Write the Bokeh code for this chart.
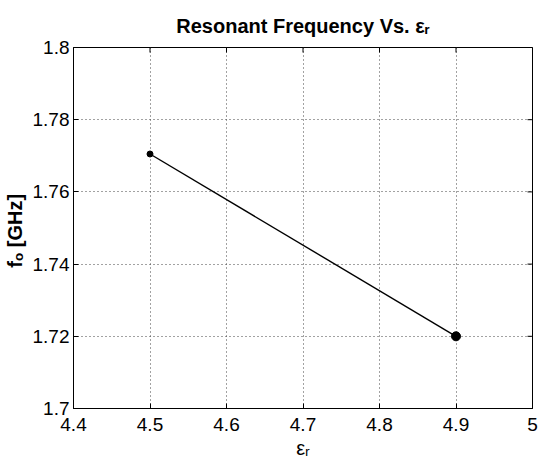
import math
from bokeh.plotting import figure
from bokeh.models import LinearAxis, FixedTicker, Range1d
from bokeh.embed import file_html
from bokeh.resources import INLINE

# data
eps_r = [4.5, 4.9]
f0_ghz = [1.7705, 1.72]
marker_sizes = [6, 9]

x_ticks = [4.4, 4.5, 4.6, 4.7, 4.8, 4.9, 5.0]
x_tick_labels = ["4.4", "4.5", "4.6", "4.7", "4.8", "4.9", "5"]
y_ticks = [1.70, 1.72, 1.74, 1.76, 1.78, 1.80]
y_tick_labels = ["1.7", "1.72", "1.74", "1.76", "1.78", "1.8"]
x_lim = (4.4, 5.0)
y_lim = (1.70, 1.80)

title_text = "Resonant Frequency Vs. \u03b5\u1d63"
x_label = "\u03b5\u1d63"
y_label = "f\u2092  [GHz]"

W, H = 538, 464
FONT = "Liberation Sans"

p = figure(width=W, height=H, output_backend="svg", toolbar_location=None,
           x_range=Range1d(*x_lim), y_range=Range1d(*y_lim),
           min_border_left=72, min_border_right=6, min_border_top=47,
           min_border_bottom=56, x_axis_location=None, y_axis_location=None,
           title=title_text)
p.title.text_font = FONT
p.title.text_font_size = "20px"
p.title.text_font_style = "bold"
p.title.text_color = "black"
p.title.align = "center"
p.title.standoff = 22
p.background_fill_color = "white"
p.border_fill_color = "white"
p.outline_line_color = "black"
p.outline_line_width = 1

def style_axis(ax, ticks, labels, standoff, label, label_style, label_standoff):
    ax.ticker = FixedTicker(ticks=ticks)
    ax.major_label_overrides = {t: l for t, l in zip(ticks, labels)}
    ax.major_tick_in = 5
    ax.major_tick_out = 0
    ax.minor_tick_in = 0
    ax.minor_tick_out = 0
    ax.axis_line_color = "black"
    ax.major_tick_line_color = "black"
    ax.major_label_text_font = FONT
    ax.major_label_text_color = "black"
    ax.major_label_text_font_size = "19px"
    ax.major_label_standoff = standoff
    ax.axis_label = label
    ax.axis_label_text_font = FONT
    ax.axis_label_text_font_size = "20px"
    ax.axis_label_text_font_style = label_style
    ax.axis_label_text_color = "black"
    ax.axis_label_standoff = label_standoff

xb = LinearAxis(); style_axis(xb, x_ticks, x_tick_labels, 9, x_label, "normal", 3)
p.add_layout(xb, "below")
yl = LinearAxis(); style_axis(yl, y_ticks, y_tick_labels, 4, y_label, "bold", 4)
p.add_layout(yl, "left")

p.xgrid.ticker = FixedTicker(ticks=x_ticks)
p.ygrid.ticker = FixedTicker(ticks=y_ticks)
for g in (p.xgrid, p.ygrid):
    g.grid_line_color = "#444444"
    g.grid_line_dash = "1 3"
    g.grid_line_width = 1

# inward ticks on the top and right edges (half of each dash is clipped away)
p.scatter(x_ticks, [y_lim[1]] * len(x_ticks), marker="dash", size=10,
          angle=math.pi / 2, line_color="black", line_width=1)
p.scatter([x_lim[1]] * len(y_ticks), y_ticks, marker="dash", size=10,
          line_color="black", line_width=1)

p.line(eps_r, f0_ghz, line_color="black", line_width=1.4)
p.scatter(eps_r, f0_ghz, size=marker_sizes, color="black")

open("out.html", "w").write(file_html(p, INLINE))
